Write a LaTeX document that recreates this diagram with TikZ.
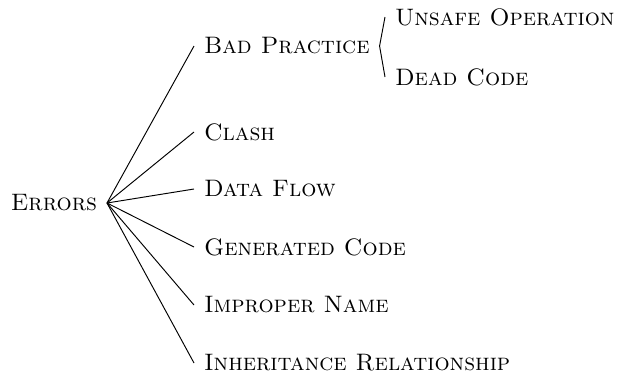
\documentclass[tikz,border=0pt]{standalone}
\usepackage{tikz}
\usetikzlibrary{positioning}

\begin{document}
\begin{tikzpicture}[
    x=0.42pt, y=-0.42pt,
    cat/.style={inner sep=4pt, font=\scshape},
    branch/.style={thin, color=black}
]
\useasboundingbox (0,0) rectangle (624,372);

\node[cat, anchor=east] (errors) at (107,203) {Errors};

\node[cat, anchor=west] (badpractice) at (194,46) {Bad Practice};
\node[cat, anchor=west] (clash) at (194,132) {Clash};
\node[cat, anchor=west] (dataflow) at (194,189) {Data Flow};
\node[cat, anchor=west] (gencode) at (194,247) {Generated Code};
\node[cat, anchor=west] (impname) at (194,305) {Improper Name};
\node[cat, anchor=west] (inherit) at (194,363) {Inheritance Relationship};

\node[cat, anchor=west] (unsafe) at (385,17) {Unsafe Operation};
\node[cat, anchor=west] (deadcode) at (385,77) {Dead Code};

\draw[branch] (errors.east) -- (badpractice.west);
\draw[branch] (errors.east) -- (clash.west);
\draw[branch] (errors.east) -- (dataflow.west);
\draw[branch] (errors.east) -- (gencode.west);
\draw[branch] (errors.east) -- (impname.west);
\draw[branch] (errors.east) -- (inherit.west);

\draw[branch] (badpractice.east) -- (unsafe.west);
\draw[branch] (badpractice.east) -- (deadcode.west);
\end{tikzpicture}
\end{document}
